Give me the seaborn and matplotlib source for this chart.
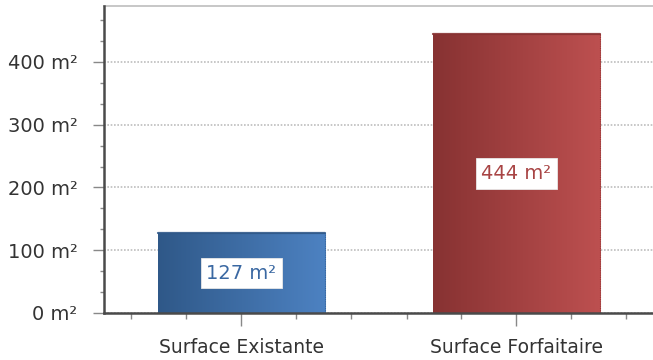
import numpy as np
import pandas as pd
import matplotlib
matplotlib.use("Agg")
import matplotlib.pyplot as plt
from matplotlib.colors import LinearSegmentedColormap
from matplotlib.ticker import MultipleLocator, FuncFormatter
import seaborn as sns

# Surfaces compared (m²)
categories = ["Surface Existante", "Surface Forfaitaire"]
values = [127, 444]
bar_left_colors = ["#2f5888", "#873232"]
bar_right_colors = ["#4d82c2", "#bd5050"]
label_colors = ["#3a68a2", "#a84444"]
y_max = 489

sns.set_theme(style="white")
plt.rcParams["font.family"] = ["DejaVu Sans"]

fig = plt.figure(figsize=(6.53, 3.60), dpi=100)
ax = fig.add_axes([104 / 653, 1 - 313 / 360, 550 / 653, 307 / 360])

df = pd.DataFrame({"categorie": categories, "surface": values})
sns.barplot(data=df, x="categorie", y="surface", ax=ax, width=0.61,
            color="white", saturation=1, linewidth=0, zorder=3)

ax.set_xlim(-0.5, 1.5)
ax.set_ylim(0, y_max)

# Horizontal gradient fill for each bar, clipped to the bar shape
for patch, c0, c1, lc, v in zip(ax.patches, bar_left_colors, bar_right_colors,
                                label_colors, values):
    x0, y0 = patch.get_x(), patch.get_y()
    w, h = patch.get_width(), patch.get_height()
    cmap = LinearSegmentedColormap.from_list("g", [c0, c1])
    grad = np.linspace(0, 1, 256).reshape(1, -1)
    im = ax.imshow(grad, cmap=cmap, extent=[x0, x0 + w, y0, y0 + h],
                   aspect="auto", zorder=3.5, interpolation="bilinear")
    im.set_clip_path(patch)
    ax.plot([x0, x0 + w], [y0 + h, y0 + h], color=c0, lw=1.6,
            zorder=3.6, alpha=0.9)
    ax.plot([x0 + w, x0 + w], [y0, y0 + h], color=c0, lw=0.8,
            zorder=3.6, alpha=0.7, ls=(0, (1, 1)))
    ax.text(x0 + w / 2, y0 + h / 2, f"{v} m²", ha="center", va="center",
            fontsize=14, color=lc, zorder=5,
            bbox=dict(boxstyle="square,pad=0.3", facecolor="white",
                      edgecolor="#e8e8e8", linewidth=0.6))

# Axes styling
ax.set_xlabel("")
ax.set_ylabel("")
ax.yaxis.set_major_locator(MultipleLocator(100))
ax.yaxis.set_minor_locator(MultipleLocator(100 / 3))
ax.yaxis.set_major_formatter(FuncFormatter(lambda v, p: f"{int(v)} m²"))
ax.xaxis.set_minor_locator(MultipleLocator(0.2))

ax.grid(axis="y", which="major", color="#bdbdbd", linestyle=(0, (1, 1)),
        linewidth=1.2, zorder=1)
ax.grid(axis="x", visible=False)

for side in ["left", "bottom"]:
    ax.spines[side].set_visible(True)
    ax.spines[side].set_color("#4a4a4a")
    ax.spines[side].set_linewidth(1.8)
    ax.spines[side].set_zorder(6)
ax.spines["top"].set_visible(True)
ax.spines["top"].set_color("#bdbdbd")
ax.spines["top"].set_linestyle((0, (1, 1)))
ax.spines["top"].set_linewidth(1.2)
ax.spines["right"].set_visible(False)

ax.tick_params(axis="y", which="major", direction="out", length=8, width=1,
               color="#888888", pad=11, labelsize=14, labelcolor="#333333",
               left=True)
ax.tick_params(axis="y", which="minor", direction="out", length=3, width=1,
               color="#888888", left=True)
ax.tick_params(axis="x", which="major", direction="out", length=9, width=1,
               color="#888888", pad=9, labelsize=13.5, labelcolor="#333333",
               bottom=True)
ax.tick_params(axis="x", which="minor", direction="out", length=4, width=1,
               color="#888888", bottom=True)

fig.savefig("out.png", dpi=100)
